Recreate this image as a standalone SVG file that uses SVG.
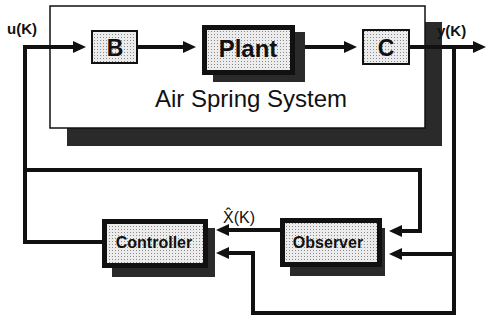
<svg xmlns="http://www.w3.org/2000/svg" width="495" height="321" viewBox="0 0 495 321">
  <style>
    .lbl { font-family: "Liberation Sans", Arial, sans-serif; fill: #111; }
    .b { font-weight: bold; }
    .wire { fill: none; stroke: #111; stroke-width: 4; stroke-linejoin: miter; }
    .shadow { fill: #2a2a2a; }
    .frame { fill: #111; }
    .dots { fill: url(#dotpat); }
  </style>
  <defs>
    <pattern id="dotpat" width="3" height="3" patternUnits="userSpaceOnUse">
      <rect width="3" height="3" fill="#ececec"/>
      <rect x="1" y="1" width="1" height="1" fill="#8a8a8a"/>
    </pattern>
    <marker id="arr" markerUnits="userSpaceOnUse" markerWidth="13" markerHeight="12" refX="6" refY="6" orient="auto">
      <path d="M0 0 L13 6 L0 12 z" fill="#111"/>
    </marker>
  </defs>

  <g id="air-spring-system">
    <rect x="67" y="22" width="375" height="124" class="shadow"/>
    <rect x="50" y="6" width="375" height="122" fill="#fff" stroke="#111" stroke-width="1.5"/>
    <text x="251" y="107" class="lbl" font-size="24" text-anchor="middle">Air Spring System</text>
  </g>

  <g id="connectors">
    <path class="wire" d="M102 242 H25 V47 H79" marker-end="url(#arr)"/>
    <path class="wire" d="M137 47 H189" marker-end="url(#arr)"/>
    <path class="wire" d="M295 47 H350" marker-end="url(#arr)"/>
    <path class="wire" d="M409 47 H479" marker-end="url(#arr)"/>
    <path class="wire" d="M454 47 V313 H253 V253 H223" marker-end="url(#arr)"/>
    <path class="wire" d="M454 254 H396" marker-end="url(#arr)"/>
    <path class="wire" d="M25 170 H420 V231 H396" marker-end="url(#arr)"/>
    <path class="wire" d="M280 230 H223" marker-end="url(#arr)"/>
  </g>

  <g id="B">
    <rect x="92" y="31" width="45" height="32" class="dots" stroke="#111" stroke-width="2"/>
    <text x="115" y="56" class="lbl b" font-size="23" text-anchor="middle">B</text>
  </g>

  <g id="plant">
    <rect x="213" y="32" width="92" height="50" class="shadow"/>
    <rect x="202" y="25" width="93" height="50" class="frame"/>
    <rect x="207" y="30" width="83" height="40" class="dots"/>
    <text x="248" y="57" class="lbl b" font-size="24" text-anchor="middle">Plant</text>
  </g>

  <g id="C">
    <rect x="363" y="30" width="46" height="34" class="dots" stroke="#111" stroke-width="2"/>
    <text x="386" y="56" class="lbl b" font-size="23" text-anchor="middle">C</text>
  </g>

  <g id="controller">
    <rect x="112" y="228" width="103" height="49" class="shadow"/>
    <rect x="102" y="219" width="106" height="49" class="frame"/>
    <rect x="107" y="224" width="96" height="39" class="dots"/>
    <text x="154" y="248" class="lbl b" font-size="16" text-anchor="middle">Controller</text>
  </g>

  <g id="observer">
    <rect x="290" y="228" width="95" height="48" class="shadow"/>
    <rect x="280" y="218" width="102" height="49" class="frame"/>
    <rect x="285" y="223" width="92" height="39" class="dots"/>
    <text x="328" y="248" class="lbl b" font-size="16" text-anchor="middle">Observer</text>
  </g>

  <g id="labels">
    <text x="7" y="34" class="lbl b" font-size="15">u(K)</text>
    <text x="437" y="36" class="lbl b" font-size="15">y(K)</text>
    <text x="223" y="223" class="lbl" font-size="16">X̂(K)</text>
  </g>
</svg>
